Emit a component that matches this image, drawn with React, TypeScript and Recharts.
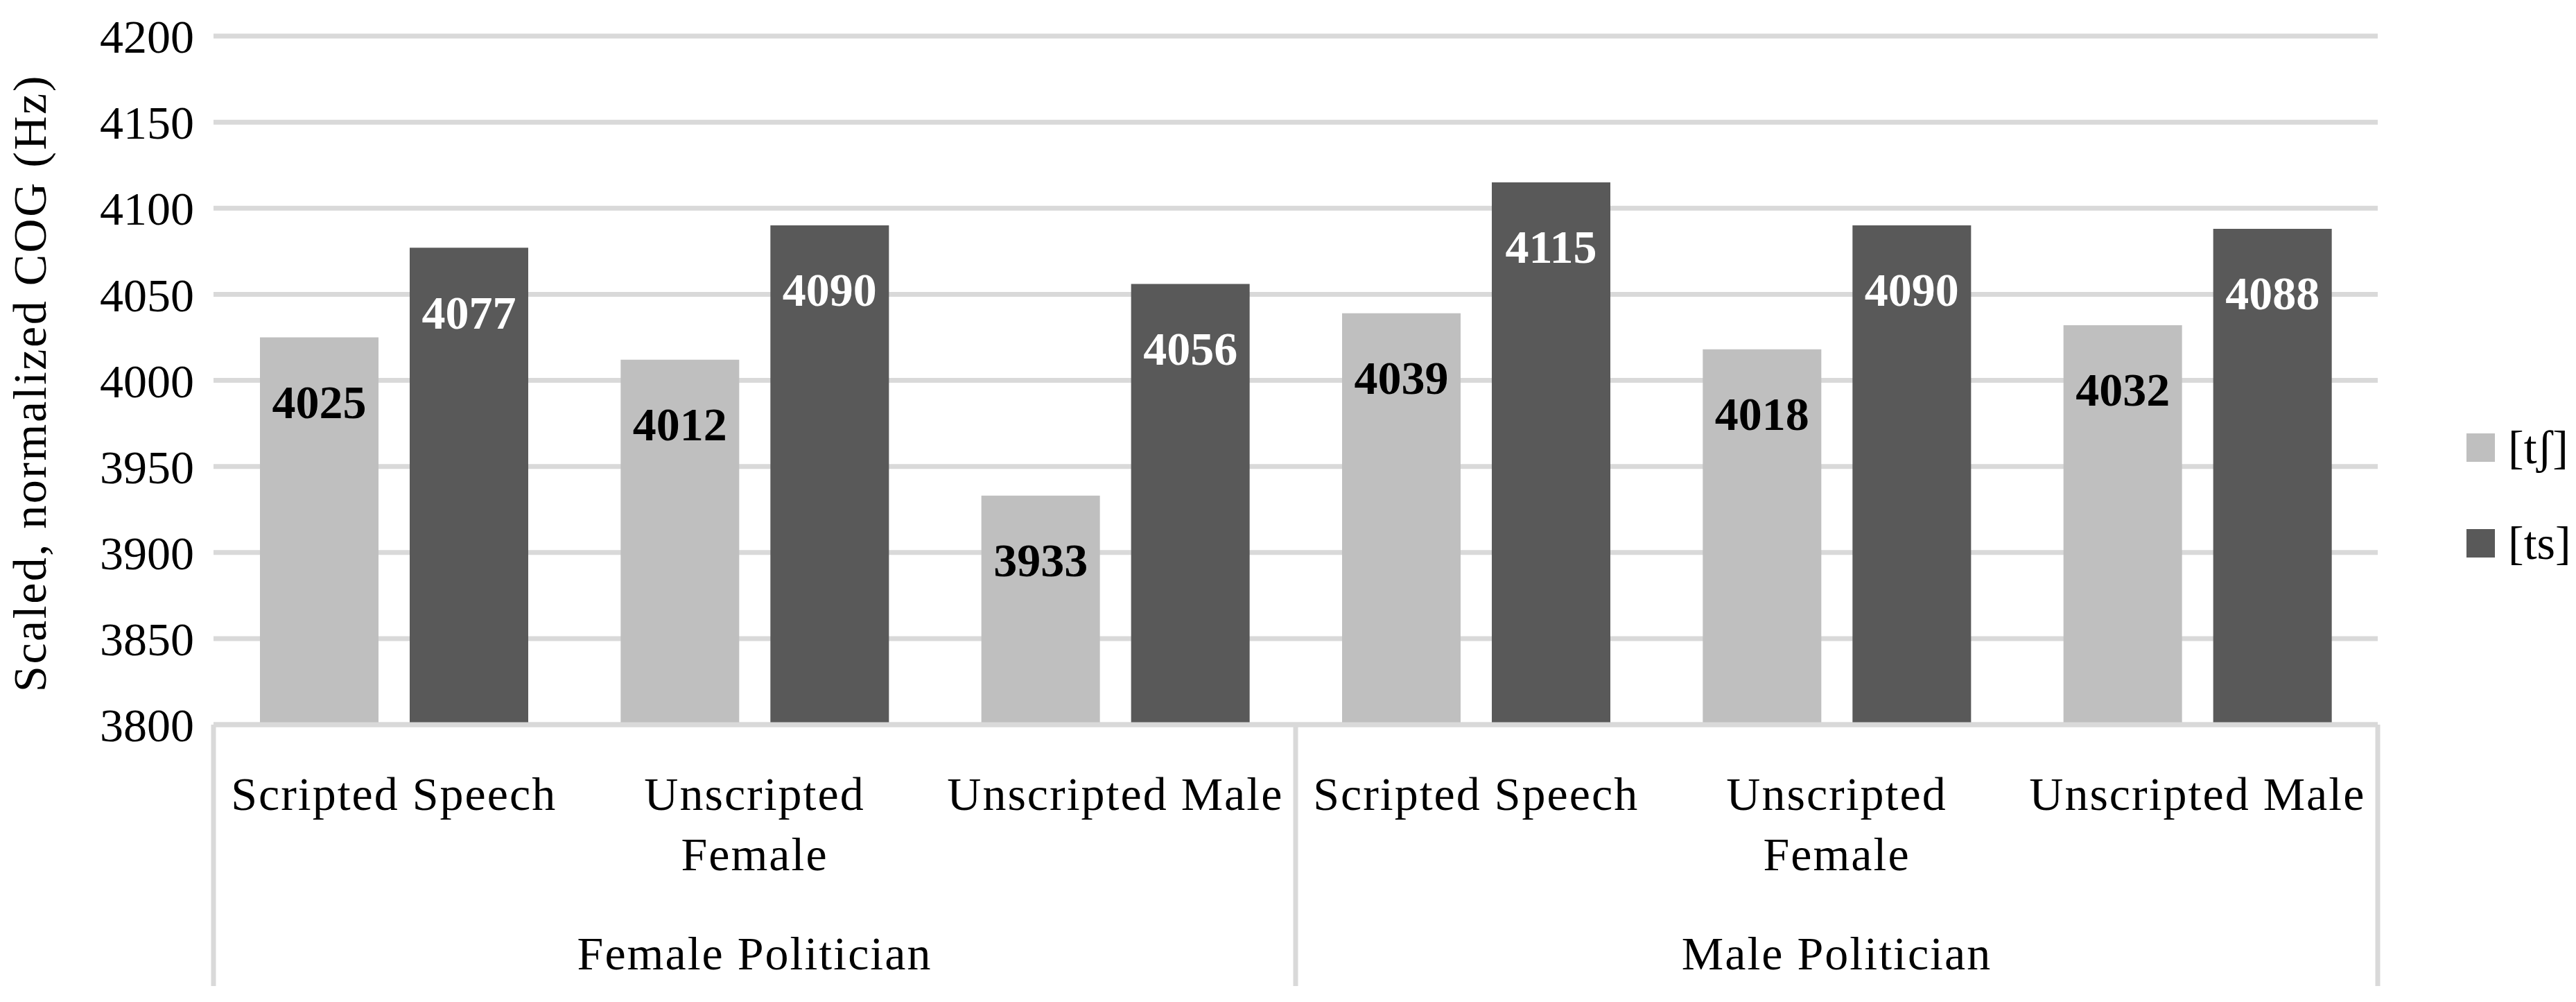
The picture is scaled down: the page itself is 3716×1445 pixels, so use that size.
import React from "react";
import {
  BarChart,
  Bar,
  XAxis,
  YAxis,
  CartesianGrid,
  Legend,
  LabelList,
} from "recharts";

const groupNames = ["Female Politician", "Male Politician"];
const subCategories = [
  ["Scripted Speech"],
  ["Unscripted", "Female"],
  ["Unscripted Male"],
];
const seriesNames = ["[tʃ]", "[ts]"];
const tshValues = [4025, 4012, 3933, 4039, 4018, 4032];
const tsValues = [4077, 4090, 4056, 4115, 4090, 4088];
const yTicks = [3800, 3850, 3900, 3950, 4000, 4050, 4100, 4150, 4200];

const FONT = "'Liberation Serif', 'Times New Roman', serif";
const GRID = "#d9d9d9";
const LIGHT = "#bfbfbf";
const DARK = "#595959";
const FS = 68;

const chartData = groupNames.flatMap((group, g) =>
  subCategories.map((lines, i) => ({
    key: `${g}-${i}`,
    group,
    lines,
    tsh: tshValues[g * subCategories.length + i],
    ts: tsValues[g * subCategories.length + i],
  }))
);

function CategoryTick(props: any) {
  const { x, y, payload, width } = props;
  const idx = payload.index ?? props.index;
  const row = chartData[idx];
  const half = payload.offset ?? width / (2 * chartData.length);
  const perGroup = subCategories.length;
  const pos = idx % perGroup;
  const lineBottom = y + 377;
  const textProps = {
    textAnchor: "middle" as const,
    dominantBaseline: "central" as const,
    fontFamily: FONT,
    fontSize: FS,
    letterSpacing: 2,
    fill: "#000",
  };
  return (
    <g>
      {row.lines.map((t: string, k: number) => (
        <text key={k} x={x} y={y + 100 + k * 87} {...textProps}>
          {t}
        </text>
      ))}
      {pos === 0 && (
        <line x1={x - half} x2={x - half} y1={y} y2={lineBottom} stroke={GRID} strokeWidth={7} />
      )}
      {idx === chartData.length - 1 && (
        <line x1={x + half} x2={x + half} y1={y} y2={lineBottom} stroke={GRID} strokeWidth={7} />
      )}
      {pos === Math.floor(perGroup / 2) && (
        <text x={x} y={y + 330} {...textProps}>
          {row.group}
        </text>
      )}
    </g>
  );
}

function YTitle({ viewBox }: any) {
  const cx = viewBox.x + 43;
  const cy = viewBox.y + viewBox.height / 2 + 4;
  return (
    <text
      x={cx}
      y={cy}
      transform={`rotate(-90 ${cx} ${cy})`}
      textAnchor="middle"
      dominantBaseline="central"
      fontFamily={FONT}
      fontSize={FS}
      letterSpacing={2.5}
      fill="#000"
    >
      Scaled, normalized COG (Hz)
    </text>
  );
}

function LegendBox({ payload }: any) {
  const items = [...(payload || [])].sort(
    (a: any, b: any) => seriesNames.indexOf(a.value) - seriesNames.indexOf(b.value)
  );
  return (
    <div style={{ fontFamily: FONT, fontSize: FS, color: "#000" }}>
      {items.map((p: any) => (
        <div key={p.value} style={{ display: "flex", alignItems: "center", height: 138 }}>
          <span style={{ width: 41, height: 41, background: p.color, marginRight: 19, display: "inline-block" }} />
          <span>{p.value}</span>
        </div>
      ))}
    </div>
  );
}

export default function App() {
  return (
    <div style={{ position: "absolute", left: 0, top: 0, background: "#fff" }}>
      <BarChart
        width={3716}
        height={1445}
        data={chartData}
        margin={{ top: 52, right: 286, bottom: 0, left: 0 }}
        barGap={45}
        barSize={171}
      >
        <CartesianGrid horizontal vertical={false} stroke={GRID} strokeWidth={7} />
        <XAxis
          dataKey="key"
          height={400}
          tickLine={false}
          tickSize={0}
          tickMargin={0}
          axisLine={{ stroke: GRID, strokeWidth: 7 }}
          tick={<CategoryTick />}
          interval={0}
        />
        <YAxis
          width={308}
          domain={[3800, 4200]}
          ticks={yTicks}
          allowDataOverflow
          axisLine={false}
          tickLine={false}
          tickSize={0}
          tickMargin={28}
          tick={{ fontFamily: FONT, fontSize: FS, fill: "#000" }}
          label={{ content: <YTitle /> }}
        />
        <Legend
          layout="vertical"
          align="center"
          verticalAlign="middle"
          wrapperStyle={{ left: 3558, top: 576, width: 200 }}
          content={<LegendBox />}
        />
        <Bar dataKey="tsh" name={seriesNames[0]} fill={LIGHT} isAnimationActive={false}>
          <LabelList
            dataKey="tsh"
            position="insideTop"
            offset={68}
            fill="#000"
            fontFamily={FONT}
            fontSize={FS}
            fontWeight="bold"
          />
        </Bar>
        <Bar dataKey="ts" name={seriesNames[1]} fill={DARK} isAnimationActive={false}>
          <LabelList
            dataKey="ts"
            position="insideTop"
            offset={68}
            fill="#fff"
            fontFamily={FONT}
            fontSize={FS}
            fontWeight="bold"
          />
        </Bar>
      </BarChart>
    </div>
  );
}
